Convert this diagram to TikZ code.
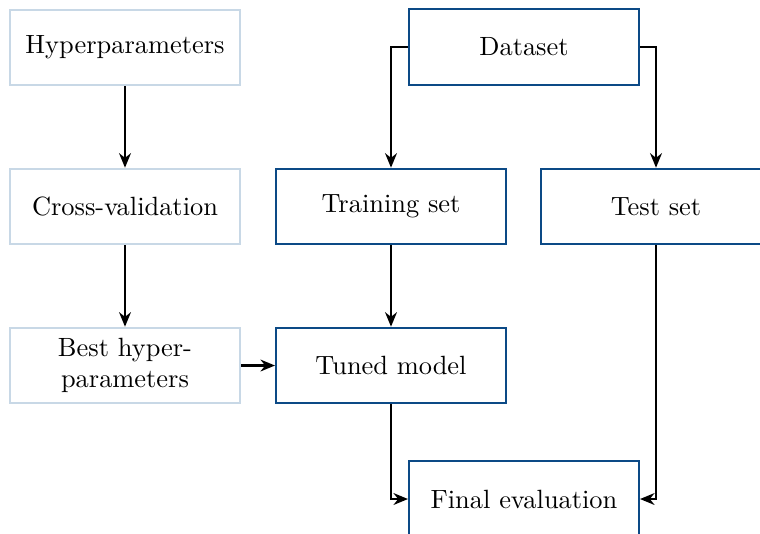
\documentclass[tikz,border=0pt]{standalone}
\usetikzlibrary{arrows.meta}
\definecolor{mainblue}{RGB}{12,74,134}
\definecolor{paleblue}{RGB}{200,216,230}
\begin{document}
\begin{tikzpicture}[x=0.3788pt,y=-0.3788pt,
  box/.style={draw,line width=0.8pt,minimum width=87.1pt,minimum height=28.6pt,
    inner sep=2pt,align=center,text width=80pt},
  hyperbox/.style={box,draw=paleblue},
  databox/.style={box,draw=mainblue},
  link/.style={line width=0.8pt,-{Stealth[length=5.5pt,width=4.5pt]}}]
  \clip (0,0) rectangle (760,533);
  \node[hyperbox] (hyper) at (125,47.5) {Hyperparameters};
  \node[hyperbox] (cv) at (125,206.5) {Cross-validation};
  \node[hyperbox] (best) at (125,365.5) {Best hyper-\\parameters};
  \node[databox] (data) at (524,47) {Dataset};
  \node[databox] (train) at (391,206.5) {Training set};
  \node[databox] (test) at (656,206.5) {Test set};
  \node[databox] (tuned) at (391,365.5) {Tuned model};
  \node[databox] (final) at (524,499) {Final evaluation};

  \draw[link] (hyper) -- (cv);
  \draw[link] (cv) -- (best);
  \draw[link] (best) -- (tuned);
  \draw[link] (data.west) -| (train.north);
  \draw[link] (data.east) -| (test.north);
  \draw[link] (train) -- (tuned);
  \draw[link] (tuned.south) |- (final.west);
  \draw[link] (test.south) |- (final.east);
\end{tikzpicture}
\end{document}
